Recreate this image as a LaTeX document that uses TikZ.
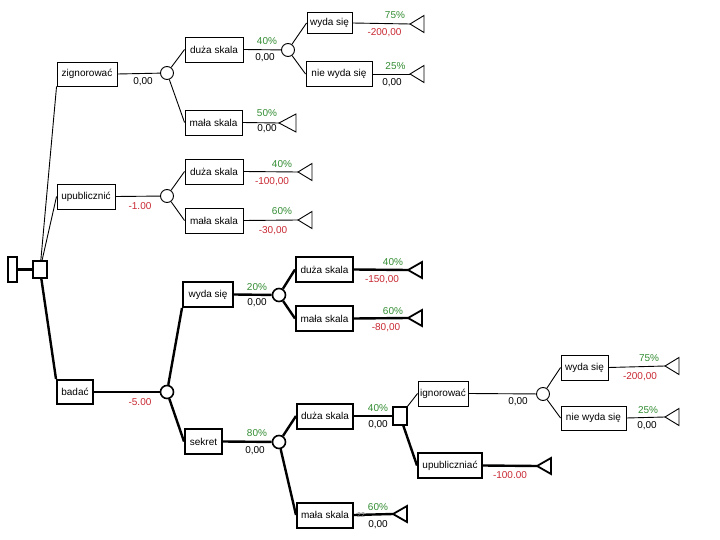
\documentclass[tikz,border=0pt]{standalone}
\usepackage{fontspec}
\setmainfont{Liberation Sans}
\definecolor{pgreen}{RGB}{50,140,50}
\definecolor{pred}{RGB}{200,40,50}
\tikzset{
  box/.style={draw, line width=0.9pt, minimum height=25pt, inner sep=0pt, font=\fontsize{10}{11}\selectfont},
  tbox/.style={box, line width=2pt},
  chance/.style={draw, circle, line width=0.9pt, minimum size=13pt, inner sep=0pt},
  tchance/.style={chance, line width=1.6pt},
  dsq/.style={draw, line width=1.4pt, inner sep=0pt},
  thinl/.style={line width=0.9pt},
  thickl/.style={line width=2.4pt},
  pct/.style={text=pgreen, font=\fontsize{10}{11}\selectfont, inner sep=0pt},
  neg/.style={text=pred, font=\fontsize{10}{11}\selectfont, inner sep=0pt},
  val/.style={text=black, font=\fontsize{10}{11}\selectfont, inner sep=0pt},
  endtri/.style={draw, line width=0.9pt, fill=white},
  tendtri/.style={draw, line width=1.8pt, fill=white}
}
\begin{document}
\begin{tikzpicture}[x=1pt,y=-1pt]
\useasboundingbox (0,0) rectangle (720,540);

% root and first decision
\node[dsq, line width=2pt, minimum width=9pt, minimum height=25pt] (root) at (12.5,269.5) {};
\node[dsq, minimum width=14pt, minimum height=17pt] (d0) at (40,269.5) {};

% first level boxes
\node[box, minimum width=60pt, minimum height=24pt] (zig) at (87,74) {zignorować};
\node[box, minimum width=58pt] (upu) at (86,196.5) {upublicznić};
\node[tbox, minimum width=36pt, minimum height=24pt] (bad) at (75,392) {badać};

% chance nodes
\node[chance] (c1) at (167,73) {};
\node[chance] (c2) at (167,196) {};
\node[tchance] (c3) at (167,392) {};

% zignorowac subtree
\node[box, minimum width=58pt] (dz1) at (214,49.5) {duża skala};
\node[box, minimum width=57pt] (ms1) at (213.5,122.5) {mała skala};
\node[chance] (c4) at (288,50) {};
\node[box, minimum width=45pt, minimum height=21pt] (wy1) at (329.5,23) {wyda się};
\node[box, minimum width=66pt] (nw1) at (339,74) {nie wyda się};
\coordinate (t1) at (410,24);
\coordinate (t2) at (410,74);
\coordinate (t3) at (279,123);

% upublicznic subtree
\node[box, minimum width=58pt] (dz2) at (214,171.5) {duża skala};
\node[box, minimum width=58pt] (ms2) at (214,220.5) {mała skala};
\coordinate (t4) at (298,172);
\coordinate (t5) at (298,220);

% badac subtree
\node[tbox, minimum width=50pt] (wy2) at (208,294.5) {wyda się};
\node[tbox, minimum width=37pt] (sek) at (203.5,441.5) {sekret};
\node[tchance] (c5) at (279,295) {};
\node[tchance] (c6) at (279,442) {};
\node[tbox, minimum width=57pt] (dz3) at (324.5,269.5) {duża skala};
\node[tbox, minimum width=57pt] (ms3) at (324.5,318.5) {mała skala};
\coordinate (t6) at (408,270);
\coordinate (t7) at (408,318);
\node[tbox, minimum width=56pt] (dz4) at (325,416) {duża skala};
\node[tbox, minimum width=56pt] (ms4) at (325,515) {mała skala};
\coordinate (t8) at (393,514);
\node[dsq, minimum width=14pt, minimum height=18pt] (d1) at (400,416) {};
\node[box, minimum width=50pt] (ign) at (443,393.5) {ignorować};
\node[tbox, minimum width=64pt] (upn) at (450,465.5) {upubliczniać};
\coordinate (t9) at (537,466);
\node[chance] (c7) at (543,394) {};
\node[box, minimum width=47pt] (wy3) at (584.5,367.5) {wyda się};
\node[box, minimum width=65pt, minimum height=24pt] (nw3) at (593.5,418) {nie wyda się};
\coordinate (t10) at (665,366);
\coordinate (t11) at (665,417);

% connectors
\draw[thickl] (root) -- (d0);
\draw[thinl] (d0) -- (zig.south west);
\draw[thinl] (d0) -- (upu.west);
\draw[thickl] (d0) -- (bad.north west);
\draw[thinl] (zig.east) -- (c1);
\draw[thinl] (upu.east) -- (c2);
\draw[thickl] (bad.east) -- (c3);

\draw[thinl] (c1) -- (dz1.west);
\draw[thinl] (c1) -- (ms1.west);
\draw[thinl] (dz1.east) -- (c4);
\draw[thinl] (c4) -- (wy1.west);
\draw[thinl] (c4) -- (nw1.west);
\draw[thinl] (wy1.east) -- (t1);
\draw[thinl] (nw1.east) -- (t2);
\draw[thinl] (ms1.east) -- (t3);

\draw[thinl] (c2) -- (dz2.west);
\draw[thinl] (c2) -- (ms2.west);
\draw[thinl] (dz2.east) -- (t4);
\draw[thinl] (ms2.east) -- (t5);

\draw[thickl] (c3) -- (wy2.south west);
\draw[thickl] (c3) -- (sek.west);
\draw[thickl] (wy2.east) -- (c5);
\draw[thickl] (c5) -- (dz3.west);
\draw[thickl] (c5) -- (ms3.west);
\draw[thickl] (dz3.east) -- (t6);
\draw[thickl] (ms3.east) -- (t7);
\draw[thickl] (sek.east) -- (c6);
\draw[thickl] (c6) -- (dz4.west);
\draw[thickl] (c6) -- (ms4.west);
\draw[thickl] (dz4.east) -- (d1);
\draw[thickl] (ms4.east) -- (t8);
\draw[thinl] (d1) -- (ign.west);
\draw[thickl] (d1) -- (upn.west);
\draw[thinl] (ign.east) -- (c7);
\draw[thickl] (upn.east) -- (t9);
\draw[thinl] (c7) -- (wy3.west);
\draw[thinl] (c7) -- (nw3.west);
\draw[thinl] (wy3.east) -- (t10);
\draw[thinl] (nw3.east) -- (t11);

% end triangles
\foreach \t in {t1,t2,t4,t5,t10,t11}{
  \draw[endtri] (\t) -- ++(14,-8.5) -- ++(0,17) -- cycle;
}
\draw[endtri] (t3) -- ++(17,-9) -- ++(0,18) -- cycle;
\foreach \t in {t6,t7,t8,t9}{
  \draw[tendtri] (\t) -- ++(14,-8) -- ++(0,16) -- cycle;
}

% labels
\node[val] (l1) at (143,82) {0,00};
\node[neg] (l2) at (140,206) {-1.00};
\node[neg] (l3) at (140,402.5) {-5.00};

\node[pct] (l4) at (267,41.5) {40\%};
\node[val] (l5) at (265,57.5) {0,00};
\node[pct] (l6) at (395,15.5) {75\%};
\node[neg] (l7) at (384.5,33) {-200,00};
\node[pct] (l8) at (395.5,66.5) {25\%};
\node[val] (l9) at (392,82.5) {0,00};
\node[pct] (l10) at (267,113) {50\%};
\node[val] (l11) at (267,129) {0,00};

\node[pct] (l12) at (282,164) {40\%};
\node[neg] (l13) at (272,182) {-100,00};
\node[pct] (l14) at (282,211.5) {60\%};
\node[neg] (l15) at (273,230.5) {-30,00};

\node[pct] (l16) at (257,287.5) {20\%};
\node[val] (l17) at (257,303) {0,00};
\node[pct] (l18) at (393,262) {40\%};
\node[neg] (l19) at (382,280) {-150,00};
\node[pct] (l20) at (393,311) {60\%};
\node[neg] (l21) at (386,328) {-80,00};

\node[pct] (l22) at (257,433) {80\%};
\node[val] (l23) at (255,451) {0,00};
\node[pct] (l24) at (378,408) {40\%};
\node[val] (l25) at (378,425) {0,00};
\node[pct] (l26) at (378,507) {60\%};
\node[val] (l27) at (378,525) {0,00};

\node[val] (l28) at (518,402) {0,00};
\node[neg] (l29) at (510,475) {-100.00};
\node[pct] (l30) at (649,358) {75\%};
\node[neg] (l31) at (640,377) {-200,00};
\node[pct] (l32) at (648,410) {25\%};
\node[val] (l33) at (647,426) {0,00};

\node[text=gray, font=\fontsize{7}{8}\selectfont, inner sep=0pt] (pg) at (361,515) {22};
\end{tikzpicture}
\end{document}
